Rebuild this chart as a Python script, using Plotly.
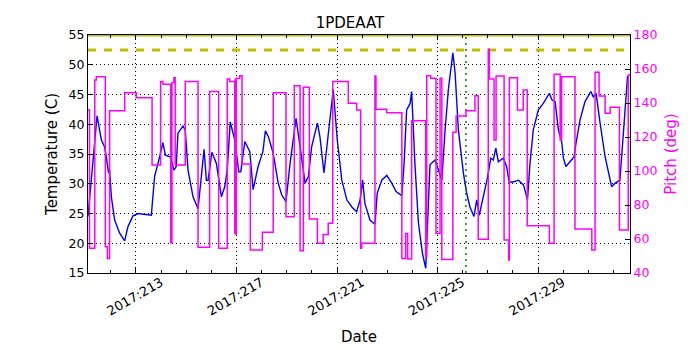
import plotly.graph_objects as go

# day-of-year (2017) for the temperature trace
temp_day = [211.09, 211.45, 211.62, 211.75, 211.82, 211.91, 211.95, 212.02, 212.15, 212.35,
            212.55, 212.68, 212.88, 213.08, 213.61, 213.74, 213.94, 214.07, 214.17, 214.38,
            214.51, 214.60, 214.67, 214.87, 214.96, 215.07, 215.27, 215.47, 215.60, 215.71,
            215.80, 215.87, 216.02, 216.20, 216.40, 216.53, 216.63, 216.75, 216.93, 217.09,
            217.17, 217.33, 217.53, 217.66, 217.86, 218.05, 218.15, 218.27, 218.46, 218.66,
            218.80, 218.97, 219.13, 219.26, 219.37, 219.53, 219.73, 219.86, 219.99, 220.22,
            220.32, 220.48, 220.65, 220.85, 221.01, 221.19, 221.39, 221.59, 221.78, 221.92,
            222.02, 222.11, 222.31, 222.51, 222.60, 222.78, 222.98, 223.18, 223.35, 223.58,
            223.67, 223.77, 223.91, 223.97, 224.10, 224.24, 224.40, 224.53, 224.70, 224.90,
            225.03, 225.17, 225.30, 225.43, 225.61, 225.70, 225.83, 226.03, 226.16, 226.29,
            226.45, 226.56, 226.66, 226.82, 226.98, 227.12, 227.22, 227.32, 227.42, 227.62,
            227.75, 227.85, 228.02, 228.22, 228.42, 228.58, 228.68, 228.81, 229.01, 229.21,
            229.45, 229.55, 229.68, 229.81, 229.94, 230.01, 230.11, 230.27, 230.43, 230.51,
            230.67, 230.87, 231.10, 231.20, 231.31, 231.47, 231.67, 231.93, 232.07, 232.26,
            232.40, 232.56, 232.62]
temp_c = [24.5, 41.4, 37.4, 36.2, 34.5, 31.8, 32.3, 27.8, 23.9, 21.7,
          20.4, 22.8, 24.6, 25.0, 24.7, 31.2, 34.5, 36.9, 34.8, 34.5,
          32.3, 32.9, 38.5, 39.7, 39.0, 32.3, 27.8, 25.8, 31.2, 35.8,
          30.6, 30.6, 35.3, 33.4, 27.8, 29.5, 32.3, 40.4, 37.4, 32.0,
          32.0, 37.1, 35.4, 29.0, 32.9, 35.4, 38.9, 37.9, 35.1, 30.1,
          28.1, 27.0, 33.4, 37.9, 41.0, 36.2, 30.1, 31.2, 36.2, 40.2,
          37.9, 31.8, 38.5, 45.8, 37.4, 30.6, 27.3, 26.1, 25.3, 27.3,
          30.6, 26.7, 23.9, 23.2, 28.4, 30.6, 31.4, 30.1, 28.7, 28.0,
          33.4, 42.4, 43.5, 45.5, 33.4, 23.4, 18.3, 15.8, 33.2, 34.0,
          32.4, 30.6, 39.0, 45.8, 52.0, 48.6, 39.0, 31.8, 28.4, 26.1,
          24.5, 27.3, 24.7, 27.8, 30.9, 34.3, 34.0, 36.0, 33.7, 34.3,
          32.9, 30.3, 30.3, 30.6, 29.8, 27.3, 33.4, 39.0, 42.4, 43.5,
          45.2, 44.1, 43.8, 39.0, 37.1, 34.3, 32.9, 33.7, 34.5, 36.8,
          40.7, 43.8, 45.5, 44.6, 45.2, 40.2, 34.5, 29.5, 30.1, 30.6,
          39.0, 48.0, 48.0]

# pitch is a step trace: each value holds until the next day entry
pitch_day = [211.09, 211.15, 211.36, 211.42, 211.78, 211.86, 211.95, 212.55, 213.01, 213.64,
             213.98, 214.07, 214.38, 214.43, 214.51, 214.56, 214.96, 215.47, 215.93, 216.29,
             216.63, 216.73, 216.93, 216.95, 216.97, 216.99, 217.02, 217.13, 217.22, 217.55,
             218.03, 218.46, 218.97, 219.30, 219.53, 219.66, 219.90, 220.22, 220.45, 220.65,
             220.83, 221.45, 221.78, 221.94, 221.98, 222.51, 222.55, 222.98, 223.58, 223.73,
             223.81, 223.97, 224.53, 224.57, 224.73, 224.94, 225.10, 225.17, 225.61, 225.74,
             226.13, 226.49, 226.62, 227.02, 227.06, 227.25, 227.33, 227.65, 227.83, 227.86,
             228.18, 228.41, 228.57, 229.45, 229.64, 229.88, 229.94, 230.47, 231.14, 231.27,
             231.43, 231.67, 231.87, 232.24, 232.59, 232.66]
pitch_deg = [135.9, 54.5, 153.5, 155.5, 55.5, 48.6, 135.5, 146.1, 143.1, 103.5,
             152.6, 151.0, 57.8, 152.0, 154.9, 103.5, 152.6, 55.1, 146.7, 54.5,
             154.1, 152.6, 63.3, 154.0, 63.0, 154.5, 154.5, 156.0, 104.1, 53.5,
             64.0, 146.1, 73.1, 150.2, 53.1, 149.2, 71.8, 57.5, 62.7, 69.2,
             152.6, 139.8, 135.9, 54.5, 57.5, 155.9, 136.3, 134.3, 48.6, 63.3,
             48.2, 129.6, 49.6, 156.0, 154.5, 63.3, 154.5, 48.0, 122.8, 132.4,
             135.5, 144.3, 59.8, 171.6, 154.1, 118.2, 155.9, 59.4, 47.6, 154.9,
             135.9, 147.6, 67.8, 57.5, 156.9, 118.2, 155.5, 65.9, 53.5, 158.1,
             144.1, 133.9, 137.5, 65.3, 156.5, 156.5]

x_range = [211.09, 232.66]
temp_limit_hi = 55.0
temp_limit_warn = 52.5
marker_day = 226.13

FONT = "DejaVu Sans"

fig = go.Figure()

fig.add_trace(go.Scatter(x=temp_day, y=temp_c, mode="lines",
                         line=dict(color="#0000ff", width=1.4), yaxis="y"))
fig.add_trace(go.Scatter(x=x_range, y=[temp_limit_hi] * 2, mode="lines",
                         line=dict(color="#bfbf00", width=3), yaxis="y"))
fig.add_trace(go.Scatter(x=x_range, y=[temp_limit_warn] * 2, mode="lines",
                         line=dict(color="#bfbf00", width=3, dash="8px,8px"), yaxis="y"))
fig.add_trace(go.Scatter(x=[marker_day] * 2, y=[15, 55], mode="lines",
                         line=dict(color="#008000", width=1.5, dash="2px,4px"), yaxis="y"))
fig.add_trace(go.Scatter(x=pitch_day, y=pitch_deg, mode="lines", line_shape="hv",
                         line=dict(color="#ff00ff", width=1.5), yaxis="y2"))

fig.update_layout(
    width=700, height=350,
    margin=dict(l=88, r=70, t=35, b=77),
    paper_bgcolor="white", plot_bgcolor="white",
    showlegend=False,
    font=dict(family=FONT, size=12.5, color="black"),
    title=dict(text="1PDEAAT", font=dict(size=15), x=0.5, xanchor="center",
               y=1 - 23 / 350, yanchor="middle", yref="container"),
    xaxis=dict(
        range=x_range, tickmode="linear", tick0=213, dtick=4, tickprefix="2017:",
        tickangle=-30, ticks="inside", ticklen=5, tickcolor="black",
        ticklabelshift=25, ticklabelstandoff=-4,
        tickfont=dict(size=13),
        showline=True, linecolor="black", linewidth=1.2, mirror="ticks",
        showgrid=True, gridcolor="black", gridwidth=1, griddash="1px,3px",
        zeroline=False, automargin=False,
        minor=dict(dtick=1, tick0=213, ticks="inside", ticklen=3, tickcolor="black", showgrid=False),
        title=dict(text="Date", standoff=13),
    ),
    yaxis=dict(
        range=[15, 55], dtick=5, ticks="inside", ticklen=5, tickcolor="black",
        showline=True, linecolor="black", linewidth=1.2,
        showgrid=True, gridcolor="black", gridwidth=1, griddash="1px,3px",
        zeroline=False, automargin=False,
        title=dict(text="Temperature (C)", standoff=7),
    ),
    yaxis2=dict(
        range=[40, 180], dtick=20, overlaying="y", side="right",
        ticks="inside", ticklen=5, tickcolor="black",
        showline=True, linecolor="black", linewidth=1.2,
        showgrid=False, zeroline=False, automargin=False,
        tickfont=dict(color="#ff00ff"),
        title=dict(text="Pitch (deg)", standoff=8, font=dict(color="#ff00ff")),
    ),
)

# drop the browser's default page margin so the figure sits at (0, 0)
fig.write_html("out.html", config={"displayModeBar": False},
               post_script="document.body.style.margin='0';")
